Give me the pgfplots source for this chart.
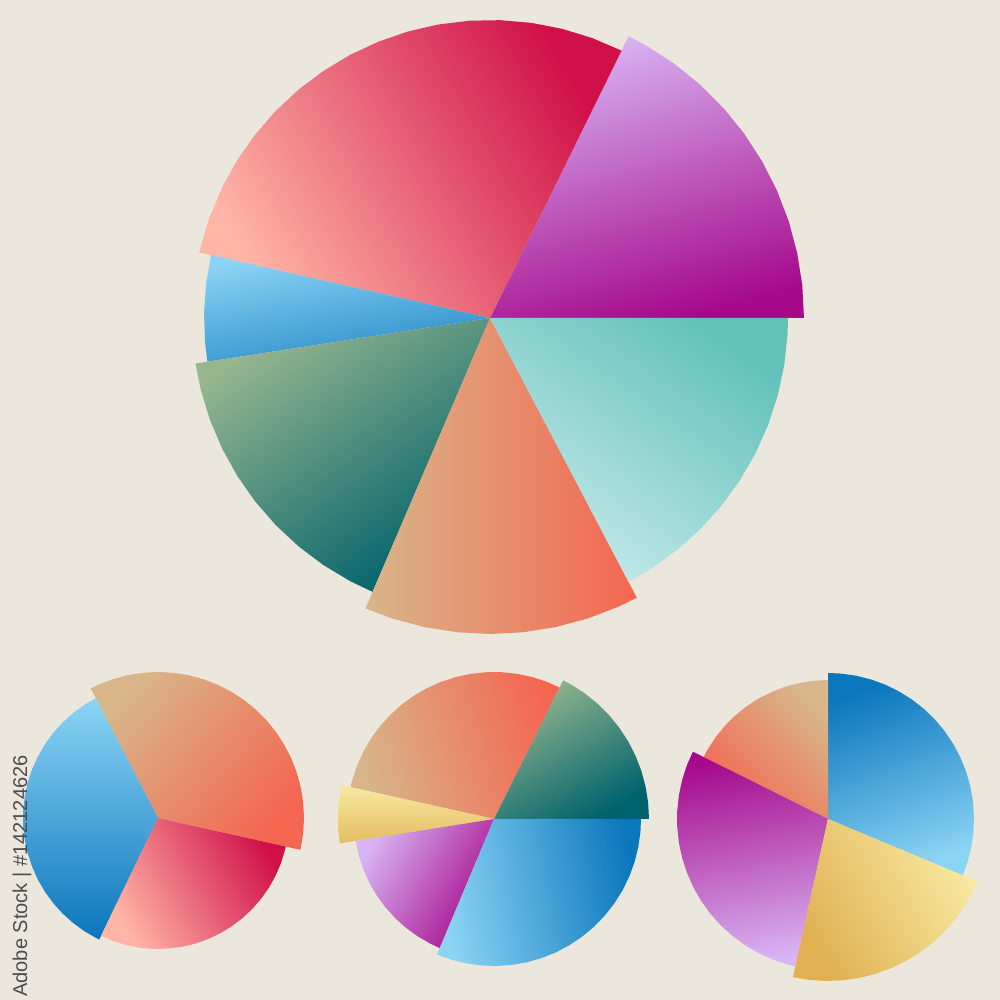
\documentclass[border=0pt]{standalone}
\usepackage{pgfplots}
\pgfplotsset{compat=1.18}
\usepgfplotslibrary{polar}
\usepackage{fontspec}
\setmainfont{Liberation Sans}
\definecolor{bg}{HTML}{EBE7DC}
\definecolor{lav}{HTML}{D8B4F4}
\definecolor{mag}{HTML}{A60A8A}
\definecolor{salm}{HTML}{FFB5A6}
\definecolor{crim}{HTML}{D01048}
\definecolor{skyl}{HTML}{8CD4F4}
\definecolor{skyd}{HTML}{0A76BC}
\definecolor{sage}{HTML}{96B68E}
\definecolor{teald}{HTML}{00626C}
\definecolor{tan}{HTML}{D8B68A}
\definecolor{coral}{HTML}{F46650}
\definecolor{cyl}{HTML}{C8EAEC}
\definecolor{cyd}{HTML}{62C2BA}
\definecolor{yell}{HTML}{F8EAA2}
\definecolor{gold}{HTML}{E0B052}
\pgfplotsset{pie/.style={hide axis, scale only axis, width=7cm, height=7cm, ymin=0, ymax=350, clip=false, anchor=origin}}
\begin{document}
\begin{tikzpicture}
\useasboundingbox (0,0) rectangle (10cm,10cm);
\fill[bg] (0,0) rectangle (10cm,10cm);
% ---------- big pie ----------
\begin{polaraxis}[pie, at={(4.90cm,6.82cm)}]
\addplot[draw=none, top color=lav, bottom color=mag, shading angle=15] coordinates {(0,0) (0,314) (6,314) (12,314) (18,314) (24,314) (30,314) (36,314) (42,314) (48,314) (54,314) (60,314) (63.8,314) (0,0)};
\addplot[draw=none, top color=salm, bottom color=crim, shading angle=120] coordinates {(0,0) (63.8,298) (70,298) (76,298) (82,298) (88,298) (94,298) (100,298) (106,298) (112,298) (118,298) (124,298) (130,298) (136,298) (142,298) (148,298) (154,298) (160,298) (166,298) (167.3,298) (0,0)};
\addplot[draw=none, top color=skyl, bottom color=skyd!80!skyl, shading angle=10] coordinates {(0,0) (167.3,286) (173,286) (179,286) (185,286) (188.8,286) (0,0)};
\addplot[draw=none, top color=sage, bottom color=teald, shading angle=35] coordinates {(0,0) (188.8,298) (194,298) (200,298) (206,298) (212,298) (218,298) (224,298) (230,298) (236,298) (242,298) (246.8,298) (0,0)};
\addplot[draw=none, top color=tan, bottom color=coral, shading angle=90] coordinates {(0,0) (246.8,316) (252,316) (258,316) (264,316) (270,316) (276,316) (282,316) (288,316) (294,316) (297.7,316) (0,0)};
\addplot[draw=none, top color=cyl, bottom color=cyd, shading angle=145] coordinates {(0,0) (297.7,298) (303,298) (309,298) (315,298) (321,298) (327,298) (333,298) (339,298) (345,298) (351,298) (357,298) (360,298) (0,0)};
\end{polaraxis}
% ---------- bottom left ----------
\begin{polaraxis}[pie, at={(1.58cm,1.82cm)}]
\addplot[draw=none, top color=tan, bottom color=coral, shading angle=50] coordinates {(0,0) (-12.6,146) (-6,146) (0,146) (6,146) (12,146) (18,146) (24,146) (30,146) (36,146) (42,146) (48,146) (54,146) (60,146) (66,146) (72,146) (78,146) (84,146) (90,146) (96,146) (102,146) (108,146) (114,146) (117.4,146) (0,0)};
\addplot[draw=none, top color=skyl, bottom color=skyd, shading angle=0] coordinates {(0,0) (117.4,135) (123,135) (129,135) (135,135) (141,135) (147,135) (153,135) (159,135) (165,135) (171,135) (177,135) (183,135) (189,135) (195,135) (201,135) (207,135) (213,135) (219,135) (225,135) (231,135) (237,135) (243,135) (244.2,135) (0,0)};
\addplot[draw=none, top color=salm, bottom color=crim, shading angle=120] coordinates {(0,0) (244.2,131) (250,131) (256,131) (262,131) (268,131) (274,131) (280,131) (286,131) (292,131) (298,131) (304,131) (310,131) (316,131) (322,131) (328,131) (334,131) (340,131) (346,131) (347.4,131) (0,0)};
\end{polaraxis}
% ---------- bottom middle ----------
\begin{polaraxis}[pie, at={(4.94cm,1.81cm)}]
\addplot[draw=none, top color=tan, bottom color=coral, shading angle=105] coordinates {(0,0) (63.5,147) (69,147) (75,147) (81,147) (87,147) (93,147) (99,147) (105,147) (111,147) (117,147) (123,147) (129,147) (135,147) (141,147) (147,147) (153,147) (159,147) (165,147) (167.5,147) (0,0)};
\addplot[draw=none, top color=sage, bottom color=teald, shading angle=30] coordinates {(0,0) (0,155) (6,155) (12,155) (18,155) (24,155) (30,155) (36,155) (42,155) (48,155) (54,155) (60,155) (63.5,155) (0,0)};
\addplot[draw=none, top color=yell, bottom color=gold!80!yell, shading angle=0] coordinates {(0,0) (167.5,156) (173,156) (179,156) (185,156) (189,156) (0,0)};
\addplot[draw=none, top color=lav, bottom color=mag, shading angle=60] coordinates {(0,0) (189,140) (195,140) (201,140) (207,140) (213,140) (219,140) (225,140) (231,140) (237,140) (243,140) (247.2,140) (0,0)};
\addplot[draw=none, top color=skyl, bottom color=skyd, shading angle=100] coordinates {(0,0) (247.2,147) (253,147) (259,147) (265,147) (271,147) (277,147) (283,147) (289,147) (295,147) (301,147) (307,147) (313,147) (319,147) (325,147) (331,147) (337,147) (343,147) (349,147) (355,147) (360,147) (0,0)};
\end{polaraxis}
% ---------- bottom right ----------
\begin{polaraxis}[pie, at={(8.28cm,1.81cm)}]
\addplot[draw=none, top color=skyd, bottom color=skyl, shading angle=20] coordinates {(0,0) (-22.7,146) (-17,146) (-11,146) (-5,146) (1,146) (7,146) (13,146) (19,146) (25,146) (31,146) (37,146) (43,146) (49,146) (55,146) (61,146) (67,146) (73,146) (79,146) (85,146) (90,146) (0,0)};
\addplot[draw=none, top color=tan, bottom color=coral, shading angle=-45] coordinates {(0,0) (90,139) (96,139) (102,139) (108,139) (114,139) (120,139) (126,139) (132,139) (138,139) (144,139) (150,139) (153.5,139) (0,0)};
\addplot[draw=none, top color=mag, bottom color=lav, shading angle=10] coordinates {(0,0) (153.5,151) (159,151) (165,151) (171,151) (177,151) (183,151) (189,151) (195,151) (201,151) (207,151) (213,151) (219,151) (225,151) (231,151) (237,151) (243,151) (249,151) (255,151) (257.5,151) (0,0)};
\addplot[draw=none, top color=yell, bottom color=gold, shading angle=-60] coordinates {(0,0) (257.5,162) (263,162) (269,162) (275,162) (281,162) (287,162) (293,162) (299,162) (305,162) (311,162) (317,162) (323,162) (329,162) (335,162) (337.3,162) (0,0)};
\end{polaraxis}
\node[rotate=90, text=black!70, font=\fontsize{5.7}{7}\selectfont] at (0.22cm,1.24cm) {Adobe Stock | \#142124626};
\end{tikzpicture}
\end{document}
